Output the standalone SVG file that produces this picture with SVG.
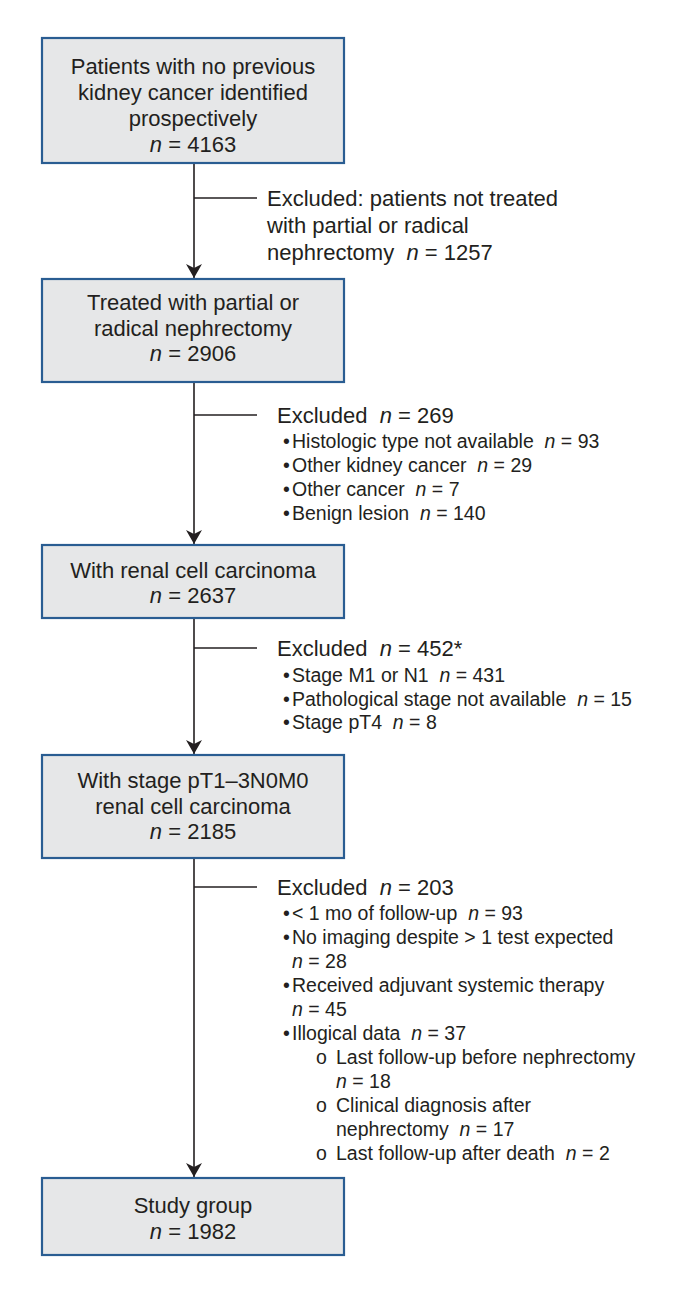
<svg xmlns="http://www.w3.org/2000/svg" width="680" height="1301" viewBox="0 0 680 1301">
<style>
  .box { fill: #e6e7e8; stroke: #2a5d92; stroke-width: 2.2; }
  .t { font-family: "Liberation Sans", Arial, sans-serif; fill: #231f20; white-space: pre; }
  .bt { font-size: 22px; text-anchor: middle; }
  .ex { font-size: 22px; }
  .bl { font-size: 19.5px; }
  .i { font-style: italic; }
  .ln { stroke: #231f20; stroke-width: 1.6; fill: none; }
</style>
<defs>
  <marker id="arr" viewBox="0 0 14 16" refX="14" refY="8" markerWidth="14" markerHeight="16" markerUnits="userSpaceOnUse" orient="auto">
    <path d="M0,0 L14,8 L0,16 L4,8 Z" fill="#231f20"/>
  </marker>
</defs>
<rect width="680" height="1301" fill="#ffffff"/>

<g id="connectors">
  <line class="ln" x1="194" y1="163" x2="194" y2="278" marker-end="url(#arr)"/>
  <line class="ln" x1="194" y1="382" x2="194" y2="544" marker-end="url(#arr)"/>
  <line class="ln" x1="194" y1="618" x2="194" y2="754" marker-end="url(#arr)"/>
  <line class="ln" x1="194" y1="858" x2="194" y2="1177" marker-end="url(#arr)"/>
  <line class="ln" x1="194" y1="198" x2="257" y2="198"/>
  <line class="ln" x1="194" y1="415" x2="257" y2="415"/>
  <line class="ln" x1="194" y1="648" x2="257" y2="648"/>
  <line class="ln" x1="194" y1="887" x2="257" y2="887"/>
</g>

<g id="n1">
  <rect class="box" x="42" y="38" width="302" height="125"/>
  <text class="t bt" x="193" y="74">Patients with no previous</text>
  <text class="t bt" x="193" y="100">kidney cancer identified</text>
  <text class="t bt" x="193" y="126">prospectively</text>
  <text class="t bt" x="193" y="152"><tspan class="i">n</tspan> = 4163</text>
</g>

<g id="n2">
  <rect class="box" x="42" y="279" width="302" height="103"/>
  <text class="t bt" x="193" y="310">Treated with partial or</text>
  <text class="t bt" x="193" y="336">radical nephrectomy</text>
  <text class="t bt" x="193" y="361"><tspan class="i">n</tspan> = 2906</text>
</g>

<g id="n3">
  <rect class="box" x="42" y="545" width="302" height="73"/>
  <text class="t bt" x="193" y="578">With renal cell carcinoma</text>
  <text class="t bt" x="193" y="603"><tspan class="i">n</tspan> = 2637</text>
</g>

<g id="n4">
  <rect class="box" x="42" y="755" width="302" height="103"/>
  <text class="t bt" x="193" y="788">With stage pT1–3N0M0</text>
  <text class="t bt" x="193" y="814">renal cell carcinoma</text>
  <text class="t bt" x="193" y="839"><tspan class="i">n</tspan> = 2185</text>
</g>

<g id="n5">
  <rect class="box" x="42" y="1178" width="302" height="77"/>
  <text class="t bt" x="193" y="1213">Study group</text>
  <text class="t bt" x="193" y="1239"><tspan class="i">n</tspan> = 1982</text>
</g>

<g id="ex1">
  <text class="t ex" x="267" y="206">Excluded: patients not treated</text>
  <text class="t ex" x="267" y="233">with partial or radical</text>
  <text class="t ex" x="267" y="260">nephrectomy  <tspan class="i">n</tspan> = 1257</text>
</g>

<g id="ex2">
  <text class="t ex" x="277" y="423">Excluded  <tspan class="i">n</tspan> = 269</text>
  <text class="t bl" x="283" y="448">•</text><text class="t bl" x="292" y="448">Histologic type not available  <tspan class="i">n</tspan> = 93</text>
  <text class="t bl" x="283" y="472">•</text><text class="t bl" x="292" y="472">Other kidney cancer  <tspan class="i">n</tspan> = 29</text>
  <text class="t bl" x="283" y="496">•</text><text class="t bl" x="292" y="496">Other cancer  <tspan class="i">n</tspan> = 7</text>
  <text class="t bl" x="283" y="520">•</text><text class="t bl" x="292" y="520">Benign lesion  <tspan class="i">n</tspan> = 140</text>
</g>

<g id="ex3">
  <text class="t ex" x="277" y="656">Excluded  <tspan class="i">n</tspan> = 452*</text>
  <text class="t bl" x="283" y="682">•</text><text class="t bl" x="292" y="682">Stage M1 or N1  <tspan class="i">n</tspan> = 431</text>
  <text class="t bl" x="283" y="706">•</text><text class="t bl" x="292" y="706">Pathological stage not available  <tspan class="i">n</tspan> = 15</text>
  <text class="t bl" x="283" y="729">•</text><text class="t bl" x="292" y="729">Stage pT4  <tspan class="i">n</tspan> = 8</text>
</g>

<g id="ex4">
  <text class="t ex" x="277" y="895">Excluded  <tspan class="i">n</tspan> = 203</text>
  <text class="t bl" x="283" y="920">•</text><text class="t bl" x="292" y="920">&lt; 1 mo of follow-up  <tspan class="i">n</tspan> = 93</text>
  <text class="t bl" x="283" y="944">•</text><text class="t bl" x="292" y="944">No imaging despite &gt; 1 test expected</text>
  <text class="t bl" x="292" y="968"><tspan class="i">n</tspan> = 28</text>
  <text class="t bl" x="283" y="992">•</text><text class="t bl" x="292" y="992">Received adjuvant systemic therapy</text>
  <text class="t bl" x="292" y="1016"><tspan class="i">n</tspan> = 45</text>
  <text class="t bl" x="283" y="1040">•</text><text class="t bl" x="292" y="1040">Illogical data  <tspan class="i">n</tspan> = 37</text>
  <text class="t bl" x="316" y="1064">o</text><text class="t bl" x="336" y="1064">Last follow-up before nephrectomy</text>
  <text class="t bl" x="336" y="1088"><tspan class="i">n</tspan> = 18</text>
  <text class="t bl" x="316" y="1112">o</text><text class="t bl" x="336" y="1112">Clinical diagnosis after</text>
  <text class="t bl" x="336" y="1136">nephrectomy  <tspan class="i">n</tspan> = 17</text>
  <text class="t bl" x="316" y="1160">o</text><text class="t bl" x="336" y="1160">Last follow-up after death  <tspan class="i">n</tspan> = 2</text>
</g>
</svg>
